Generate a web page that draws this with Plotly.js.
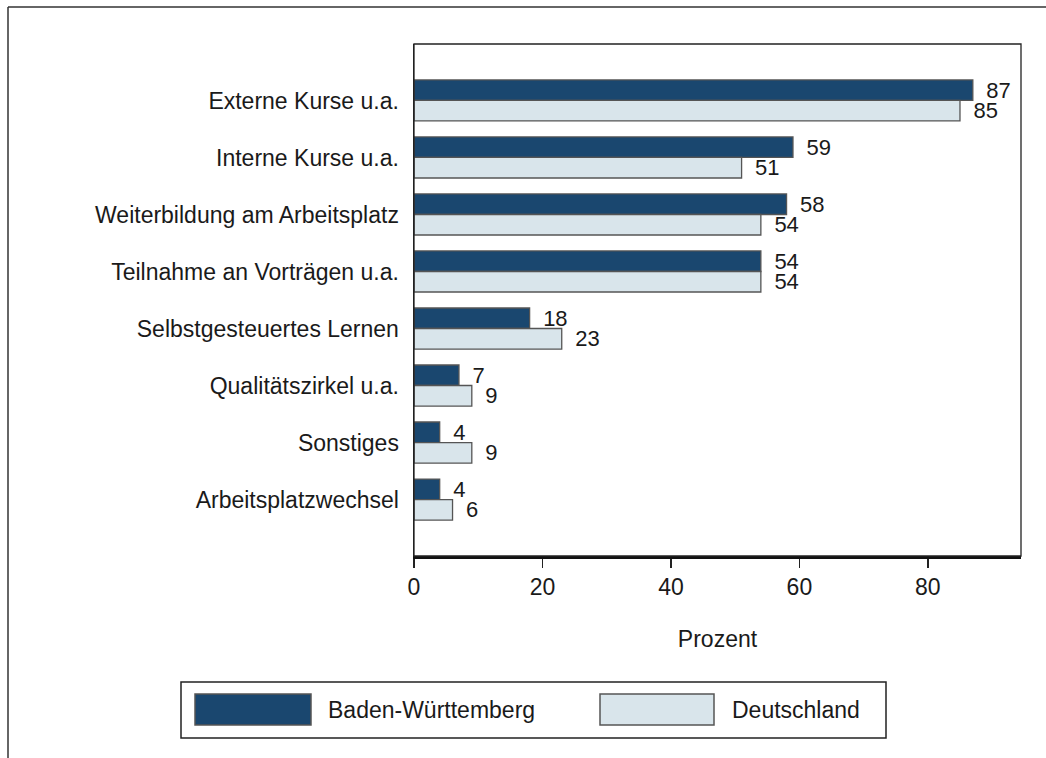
<!DOCTYPE html>
<html>
<head>
<meta charset="utf-8">
<script src="https://cdn.plot.ly/plotly-3.0.1.min.js"></script>
<style>
  html, body { margin: 0; padding: 0; background: #fff; }
  #chart { width: 1046px; height: 758px; }
</style>
</head>
<body>
<div id="chart"></div>
<script>
const categories = [
  "Externe Kurse u.a.",
  "Interne Kurse u.a.",
  "Weiterbildung am Arbeitsplatz",
  "Teilnahme an Vorträgen u.a.",
  "Selbstgesteuertes Lernen",
  "Qualitätszirkel u.a.",
  "Sonstiges",
  "Arbeitsplatzwechsel"
];
const seriesNames = ["Baden-Württemberg", "Deutschland"];
const valuesBW = [87, 59, 58, 54, 18, 7, 4, 4];
const valuesDE = [85, 51, 54, 54, 23, 9, 9, 6];
const xTicks = [0, 20, 40, 60, 80];
const axisTitle = "Prozent";

const colors = ["#1a476f", "#d9e5eb"];
const FONT = "Liberation Sans, Arial, sans-serif";
const TXT = "#1a1a1a";
const FS = 23;

const W = 1046, H = 758;
const L = 414, R = 1021, T = 44, B = 556;
const px = x => (x - L) / (R - L);
const py = y => (B - y) / (B - T);

function barTrace(vals, i) {
  return {
    type: "bar",
    orientation: "h",
    name: seriesNames[i],
    y: categories,
    x: vals,
    text: vals.map(v => "\u00a0\u2009" + v),
    textposition: "outside",
    constraintext: "none",
    cliponaxis: false,
    textfont: { family: FONT, size: 22, color: TXT },
    marker: { color: colors[i], line: { color: "#555555", width: 1.3 } },
    hoverinfo: "x+y",
    showlegend: false
  };
}

const data = [barTrace(valuesBW, 0), barTrace(valuesDE, 1)];

const shapes = [
  { type: "rect", xref: "paper", yref: "paper", x0: 0, x1: 1, y0: 0, y1: 1,
    line: { color: "#222", width: 1.3 }, layer: "above" },
  { type: "line", xref: "paper", yref: "paper", x0: px(8), x1: px(8), y0: py(7), y1: py(H + 5),
    line: { color: "#333", width: 1.5 } },
  { type: "line", xref: "paper", yref: "paper", x0: px(8), x1: px(W + 5), y0: py(7), y1: py(7),
    line: { color: "#333", width: 1.5 } },
  { type: "rect", xref: "paper", yref: "paper", x0: px(181), x1: px(886), y0: py(738), y1: py(682),
    line: { color: "#222", width: 1.5 }, fillcolor: "rgba(0,0,0,0)" },
  { type: "rect", xref: "paper", yref: "paper", x0: px(195), x1: px(311), y0: py(725), y1: py(694),
    line: { color: "#555", width: 1.5 }, fillcolor: colors[0] },
  { type: "rect", xref: "paper", yref: "paper", x0: px(600), x1: px(714), y0: py(725), y1: py(694),
    line: { color: "#555", width: 1.5 }, fillcolor: colors[1] }
];

const annotations = [
  { xref: "paper", yref: "paper", x: px(326), y: py(710), xanchor: "left", yanchor: "middle",
    text: seriesNames[0], showarrow: false, font: { family: FONT, size: FS, color: TXT } },
  { xref: "paper", yref: "paper", x: px(730), y: py(710), xanchor: "left", yanchor: "middle",
    text: seriesNames[1], showarrow: false, font: { family: FONT, size: FS, color: TXT } }
];

const layout = {
  width: W, height: H,
  margin: { l: L, r: W - R, t: T, b: H - B, pad: 0 },
  paper_bgcolor: "#ffffff",
  plot_bgcolor: "#ffffff",
  barmode: "group",
  bargap: 0.28,
  bargroupgap: 0,
  showlegend: false,
  font: { family: FONT, size: FS, color: TXT },
  xaxis: {
    range: [0, 94.5],
    tickvals: xTicks,
    ticktext: xTicks.map(String),
    ticks: "outside",
    ticklen: 9,
    tickwidth: 1.5,
    tickcolor: "#222",
    showgrid: false,
    zeroline: false,
    showline: true,
    linecolor: "#111",
    linewidth: 2.5,
    tickfont: { family: FONT, size: FS, color: TXT },
    title: { text: axisTitle, font: { family: FONT, size: FS, color: TXT }, standoff: 32 },
    automargin: false
  },
  yaxis: {
    type: "category",
    range: [7.99, -0.99],
    ticks: "",
    showgrid: false,
    zeroline: false,
    showline: true,
    linecolor: "#222",
    linewidth: 1.5,
    ticklabelstandoff: 9,
    tickfont: { family: FONT, size: FS, color: TXT },
    automargin: false
  },
  shapes: shapes,
  annotations: annotations
};

Plotly.newPlot("chart", data, layout, { displayModeBar: false, staticPlot: true });
</script>
</body>
</html>
